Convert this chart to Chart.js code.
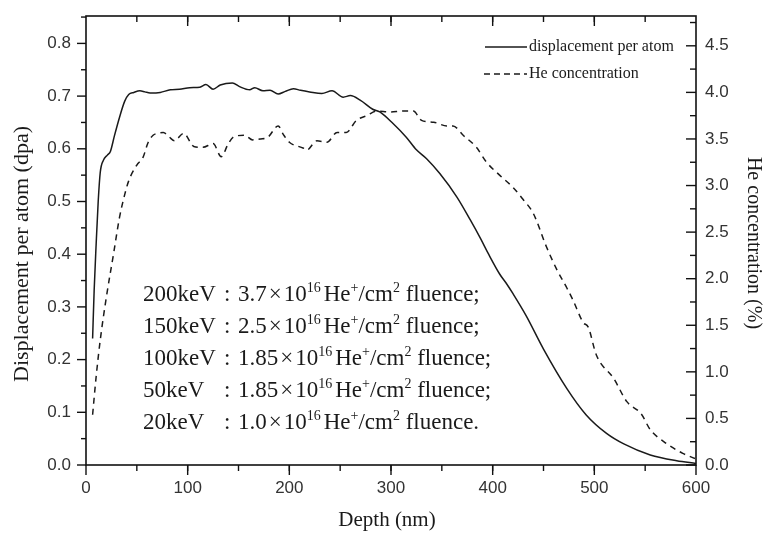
<!DOCTYPE html>
<html>
<head>
<meta charset="utf-8">
<script src="https://cdn.jsdelivr.net/npm/chart.js@4"></script>
<style>
    html, body { margin: 0; padding: 0; background: #fff; }
</style>
</head>
<body>
<canvas id="depth-chart" width="764" height="534"></canvas>
<script>
// displacement per atom (left axis)
const dpaDepth = [6.5, 8, 10, 12, 14, 17, 21, 24, 28, 33, 38, 42, 47, 53, 58, 63, 73, 83, 92, 102, 112, 118, 125, 132, 144, 151, 161, 166, 174, 181, 189, 196, 204, 211, 220, 232, 242, 253, 260, 270, 282, 289, 302, 315, 325, 335, 348, 365, 378, 388, 396, 407, 414, 420, 433, 450, 473, 492, 512, 529, 555, 581, 600]
const dpaValues = [0.24, 0.33, 0.42, 0.5, 0.555, 0.578, 0.588, 0.595, 0.625, 0.66, 0.69, 0.703, 0.707, 0.71, 0.708, 0.706, 0.707, 0.712, 0.713, 0.716, 0.717, 0.722, 0.713, 0.721, 0.725, 0.718, 0.712, 0.716, 0.71, 0.711, 0.704, 0.709, 0.714, 0.711, 0.708, 0.705, 0.71, 0.698, 0.701, 0.692, 0.675, 0.67, 0.648, 0.622, 0.598, 0.581, 0.553, 0.508, 0.465, 0.43, 0.4, 0.362, 0.343, 0.325, 0.283, 0.22, 0.145, 0.095, 0.06, 0.04, 0.019, 0.008, 0.003]

// He concentration (right axis)
const heDepth = [6.5, 10, 14, 20, 27, 33, 38, 42, 50, 56, 61, 66, 70, 76, 82, 87, 96, 106, 115, 125, 133, 140, 145, 156, 164, 171, 179, 189, 194, 200, 214, 217, 227, 237, 247, 256, 266, 276, 286, 299, 312, 322, 330, 342, 355, 361, 371, 384, 394, 406, 420, 430, 440, 453, 463, 473, 479, 489, 494, 502, 519, 532, 546, 555, 571, 587, 599]
const heValues = [0.54, 0.95, 1.34, 1.8, 2.26, 2.66, 2.9, 3.05, 3.22, 3.3, 3.46, 3.54, 3.56, 3.57, 3.52, 3.48, 3.56, 3.42, 3.41, 3.45, 3.31, 3.45, 3.52, 3.54, 3.49, 3.5, 3.52, 3.64, 3.55, 3.465, 3.4, 3.38, 3.48, 3.465, 3.57, 3.57, 3.7, 3.75, 3.8, 3.79, 3.8, 3.8, 3.7, 3.68, 3.64, 3.64, 3.54, 3.41, 3.25, 3.12, 2.98, 2.85, 2.7, 2.34, 2.1, 1.9, 1.77, 1.53, 1.48, 1.18, 0.93, 0.68, 0.55, 0.38, 0.23, 0.125, 0.07]

const seriesLabels = ["displacement per atom", "He concentration"]
const axisTitles = { x: "Depth (nm)", left: "Displacement per atom (dpa)", right: "He concentration (%)" }

// annotation block
const fluenceEnergies = ["200keV", "150keV", "100keV", "50keV", "20keV"]
const fluenceCoeffs = ["3.7", "2.5", "1.85", "1.85", "1.0"]
const fluenceEnds = [";", ";", ";", ";", "."]

const ink = "#1a1a1a"
const serif = '"Liberation Serif", "Times New Roman", serif'
const sans = '"Liberation Sans", Arial, sans-serif'

function drawTicks(ctx, scale, step, from, to, len, side, area) {
    for (let v = from; v <= to + 1e-9; v += step) {
        const p = scale.getPixelForValue(v)
        ctx.beginPath()
        if (side === "bottom") { ctx.moveTo(p, area.bottom); ctx.lineTo(p, area.bottom + len) }
        if (side === "top") { ctx.moveTo(p, area.top); ctx.lineTo(p, area.top + len) }
        if (side === "left") { ctx.moveTo(area.left, p); ctx.lineTo(area.left - len, p) }
        if (side === "right") { ctx.moveTo(area.right, p); ctx.lineTo(area.right - len, p) }
        ctx.stroke()
    }
}

const framePlugin = {
    id: "frame",
    afterDraw(chart) {
        const { ctx, chartArea: area, scales } = chart
        ctx.save()
        ctx.strokeStyle = "#111"
        ctx.lineWidth = 1.6
        ctx.strokeRect(area.left, area.top, area.right - area.left, area.bottom - area.top)

        ctx.lineWidth = 1.4
        drawTicks(ctx, scales.x, 100, 0, 600, 10, "bottom", area)
        drawTicks(ctx, scales.x, 50, 50, 550, 6, "bottom", area)
        drawTicks(ctx, scales.x, 100, 100, 500, 10, "top", area)
        drawTicks(ctx, scales.x, 50, 50, 550, 6, "top", area)
        drawTicks(ctx, scales.y, 0.1, 0, 0.8, 9, "left", area)
        drawTicks(ctx, scales.y, 0.1, 0.05, 0.85, 5, "left", area)
        drawTicks(ctx, scales.y2, 0.5, 0, 4.5, 10, "right", area)
        drawTicks(ctx, scales.y2, 0.5, 0.25, 4.75, 6, "right", area)

        // axis titles
        ctx.fillStyle = ink
        ctx.textAlign = "center"
        ctx.textBaseline = "middle"
        ctx.font = `22px ${serif}`
        ctx.save()
        ctx.translate(22, 254)
        ctx.rotate(-Math.PI / 2)
        ctx.fillText(axisTitles.left, 0, 0)
        ctx.restore()
        ctx.save()
        ctx.font = `20px ${serif}`
        ctx.translate(753, 243)
        ctx.rotate(Math.PI / 2)
        ctx.fillText(axisTitles.right, 0, 0)
        ctx.restore()
        ctx.font = `21px ${serif}`
        ctx.fillText(axisTitles.x, 387, 520)

        // legend
        ctx.textAlign = "left"
        ctx.font = `16px ${serif}`
        ctx.strokeStyle = ink
        ctx.lineWidth = 1.3
        ctx.beginPath(); ctx.moveTo(485, 47); ctx.lineTo(527, 47); ctx.stroke()
        ctx.setLineDash([6, 4])
        ctx.beginPath(); ctx.moveTo(484, 74); ctx.lineTo(527, 74); ctx.stroke()
        ctx.setLineDash([])
        ctx.fillText(seriesLabels[0], 529, 47)
        ctx.fillText(seriesLabels[1], 529, 74)

        // fluence annotation
        const big = `23px ${serif}`
        const small = `14px ${serif}`
        fluenceEnergies.forEach((energy, i) => {
            const y = 295 + i * 32
            ctx.font = big
            ctx.fillText(energy, 143, y)
            ctx.fillText(":", 224, y)
            let x = 238
            const put = (text, font, dy, gap) => {
                ctx.font = font
                ctx.fillText(text, x, y + dy)
                x += ctx.measureText(text).width + gap
            }
            put(fluenceCoeffs[i], big, 0, 2)
            put("×", big, 0, 2)
            put("10", big, 0, 0)
            put("16", small, -7, 3)
            put("He", big, 0, 0)
            put("+", small, -7, 0)
            put("/cm", big, 0, 0)
            put("2", small, -7, 0)
            put(" fluence" + fluenceEnds[i], big, 0, 0)
        })
        ctx.restore()
    },
}

const chart = new Chart(document.getElementById("depth-chart"), {
    type: "line",
    data: {
        datasets: [
            {
                label: seriesLabels[0],
                data: dpaDepth.map((d, i) => ({ x: d, y: dpaValues[i] })),
                borderColor: ink,
                borderWidth: 1.5,
                pointRadius: 0,
                cubicInterpolationMode: "monotone",
                yAxisID: "y",
            },
            {
                label: seriesLabels[1],
                data: heDepth.map((d, i) => ({ x: d, y: heValues[i] })),
                borderColor: ink,
                borderWidth: 1.5,
                borderDash: [6, 5],
                pointRadius: 0,
                cubicInterpolationMode: "monotone",
                yAxisID: "y2",
            },
        ],
    },
    options: {
        responsive: false,
        animation: false,
        layout: { padding: { top: 16, left: 0, right: 0, bottom: 0 } },
        plugins: {
            legend: { display: false },
            tooltip: { enabled: false },
        },
        scales: {
            x: {
                type: "linear",
                min: 0,
                max: 600,
                grid: { display: false, drawTicks: false },
                border: { display: false },
                ticks: {
                    stepSize: 100,
                    padding: 13,
                    color: "#333",
                    font: { family: sans, size: 17 },
                    maxRotation: 0,
                },
                afterFit(scale) { scale.height = 69; scale.paddingLeft = 0; scale.paddingRight = 0 },
            },
            y: {
                type: "linear",
                position: "left",
                min: 0,
                max: 0.852,
                grid: { display: false, drawTicks: false },
                border: { display: false },
                ticks: {
                    stepSize: 0.1,
                    includeBounds: false,
                    padding: 15,
                    color: "#333",
                    font: { family: sans, size: 17 },
                    callback(value) { return value.toFixed(1) },
                },
                afterFit(scale) { scale.width = 86; scale.paddingTop = 0; scale.paddingBottom = 0 },
            },
            y2: {
                type: "linear",
                position: "right",
                min: 0,
                max: 4.82,
                grid: { display: false, drawTicks: false },
                border: { display: false },
                ticks: {
                    stepSize: 0.5,
                    includeBounds: false,
                    padding: 9,
                    color: "#333",
                    font: { family: sans, size: 17 },
                    callback(value) { return value.toFixed(1) },
                },
                afterFit(scale) { scale.width = 68; scale.paddingTop = 0; scale.paddingBottom = 0 },
            },
        },
    },
    plugins: [framePlugin],
})
</script>
</body>
</html>
